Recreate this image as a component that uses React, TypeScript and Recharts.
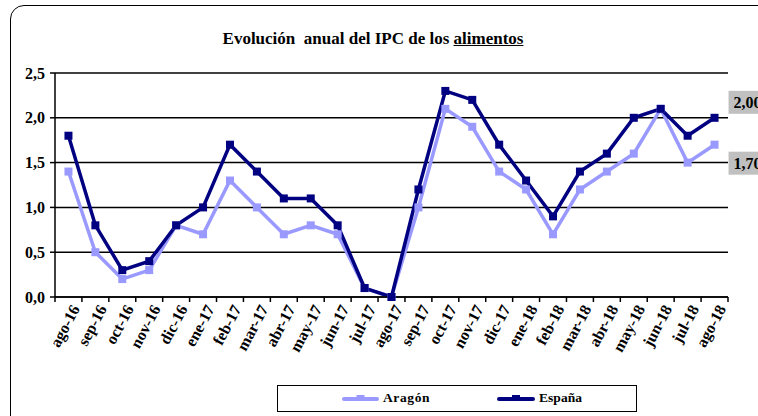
import React from "react";
import {
  LineChart,
  Line,
  XAxis,
  YAxis,
  CartesianGrid,
} from "recharts";

const months = [
  "ago-16", "sep-16", "oct-16", "nov-16", "dic-16", "ene-17", "feb-17",
  "mar-17", "abr-17", "may-17", "jun-17", "jul-17", "ago-17", "sep-17",
  "oct-17", "nov-17", "dic-17", "ene-18", "feb-18", "mar-18", "abr-18",
  "may-18", "jun-18", "jul-18", "ago-18",
];

const aragon = [
  1.4, 0.5, 0.2, 0.3, 0.8, 0.7, 1.3, 1.0, 0.7, 0.8, 0.7, 0.1, 0.0, 1.0,
  2.1, 1.9, 1.4, 1.2, 0.7, 1.2, 1.4, 1.6, 2.1, 1.5, 1.7,
];

const espana = [
  1.8, 0.8, 0.3, 0.4, 0.8, 1.0, 1.7, 1.4, 1.1, 1.1, 0.8, 0.1, 0.0, 1.2,
  2.3, 2.2, 1.7, 1.3, 0.9, 1.4, 1.6, 2.0, 2.1, 1.8, 2.0,
];

const yTicks = [0, 0.5, 1, 1.5, 2, 2.5];

const data = months.map((m, i) => ({
  name: m,
  aragon: aragon[i],
  espana: espana[i],
}));

const FONT = "'Liberation Serif', 'Times New Roman', serif";
const NAVY = "#000080";
const LILAC = "#9999FF";

const PLOT_LEFT = 55;
const PLOT_RIGHT = 728;
const HALF_BAND = (PLOT_RIGHT - PLOT_LEFT) / months.length / 2;

function SquareDot({ cx, cy, fill }: any) {
  if (cx == null || cy == null) return null;
  return <rect x={cx - 4} y={cy - 4} width={8} height={8} fill={fill} />;
}

function MonthTick({ x, y, payload, index }: any) {
  const axisY = y - 8;
  return (
    <g>
      {index === 0 && (
        <line x1={x - HALF_BAND} x2={x - HALF_BAND} y1={axisY} y2={axisY + 5} stroke="#000" strokeWidth={1.5} />
      )}
      <line x1={x + HALF_BAND} x2={x + HALF_BAND} y1={axisY} y2={axisY + 5} stroke="#000" strokeWidth={1.5} />
      <text
        x={x + 7}
        y={y + 1}
        transform={`rotate(-62, ${x + 7}, ${y + 1})`}
        textAnchor="end"
        dominantBaseline="central"
        fontFamily={FONT}
        fontWeight="bold"
        fontSize={16}
        fill="#000"
      >
        {payload.value}
      </text>
    </g>
  );
}

function EndLabel(dy: number) {
  return function Label({ x, y, index, value }: any) {
    if (index !== months.length - 1) return null;
    const bx = x + 14;
    const by = y + dy;
    return (
      <g>
        <rect x={bx} y={by} width={44} height={23} fill="#C0C0C0" />
        <text x={bx + 5} y={by + 12} dominantBaseline="central" fontFamily={FONT} fontWeight="bold" fontSize={16} fill="#000">
          {Number(value).toFixed(2).replace(".", ",")}
        </text>
      </g>
    );
  };
}

function LegendItem({ color, label, width }: any) {
  return (
    <span style={{ display: "inline-flex", alignItems: "center" }}>
      <svg width={width} height={10} style={{ marginRight: 4 }}>
        <line x1={2} x2={width - 2} y1={6} y2={6} stroke={color} strokeWidth={4} strokeLinecap="round" />
        <rect x={width / 2 - 4} y={2} width={8} height={4} fill={color} />
      </svg>
      {label}
    </span>
  );
}

export default function App() {
  return (
    <div
      style={{
        position: "absolute",
        left: 0,
        top: 0,
        width: 758,
        height: 416,
        overflow: "hidden",
        background: "#fff",
        fontFamily: FONT,
      }}
    >
      {/* outer frame */}
      <div
        style={{
          position: "absolute",
          left: 10,
          top: 5,
          width: 780,
          height: 440,
          border: "1.5px solid #000",
          borderRadius: 14,
        }}
      />
      {/* Title */}
      <div
        style={{
          position: "absolute",
          left: 0,
          width: 746,
          top: 29,
          lineHeight: "20px",
          textAlign: "center",
          fontWeight: "bold",
          fontSize: 17,
          whiteSpace: "pre",
        }}
      >
        {"Evolución  anual del IPC de los "}
        <span style={{ textDecoration: "underline" }}>alimentos</span>
      </div>
      <div style={{ position: "absolute", left: 0, top: 0 }}>
        <LineChart
          width={758}
          height={416}
          data={data}
          margin={{ top: 73, right: 30, bottom: 0, left: 0 }}
        >
          <CartesianGrid vertical={false} stroke="#000" strokeWidth={1.5} />
          <XAxis
            dataKey="name"
            height={119}
            interval={0}
            padding={{ left: HALF_BAND, right: HALF_BAND }}
            tickLine={false}
            tickSize={6}
            tickMargin={2}
            axisLine={{ stroke: "#000", strokeWidth: 1.5 }}
            tick={<MonthTick />}
          />
          <YAxis
            width={55}
            domain={[0, 2.5]}
            ticks={yTicks}
            tickFormatter={(v: number) => v.toFixed(1).replace(".", ",")}
            axisLine={{ stroke: "#000", strokeWidth: 1.5 }}
            tickLine={{ stroke: "#000", strokeWidth: 1.5 }}
            tickSize={5}
            tickMargin={5}
            tick={{ fontFamily: FONT, fontWeight: "bold", fontSize: 16, fill: "#000" }}
          />
          <Line
            dataKey="aragon"
            stroke={LILAC}
            strokeWidth={3.5}
            dot={<SquareDot fill={LILAC} />}
            label={EndLabel(7)}
            isAnimationActive={false}
          />
          <Line
            dataKey="espana"
            stroke={NAVY}
            strokeWidth={3.5}
            dot={<SquareDot fill={NAVY} />}
            label={EndLabel(-27)}
            isAnimationActive={false}
          />
        </LineChart>
      </div>
      {/* Legend */}
      <div
        style={{
          position: "absolute",
          left: 277,
          top: 385,
          width: 358,
          height: 25,
          border: "1.5px solid #000",
          display: "flex",
          alignItems: "center",
          fontWeight: "bold",
          fontSize: 13.5,
          boxSizing: "content-box",
        }}
      >
        <span style={{ marginLeft: 64, letterSpacing: 0.6 }}>
          <LegendItem color={LILAC} label="Aragón" width={37} />
        </span>
        <span style={{ marginLeft: 67 }}>
          <LegendItem color={NAVY} label="España" width={38} />
        </span>
      </div>
    </div>
  );
}
